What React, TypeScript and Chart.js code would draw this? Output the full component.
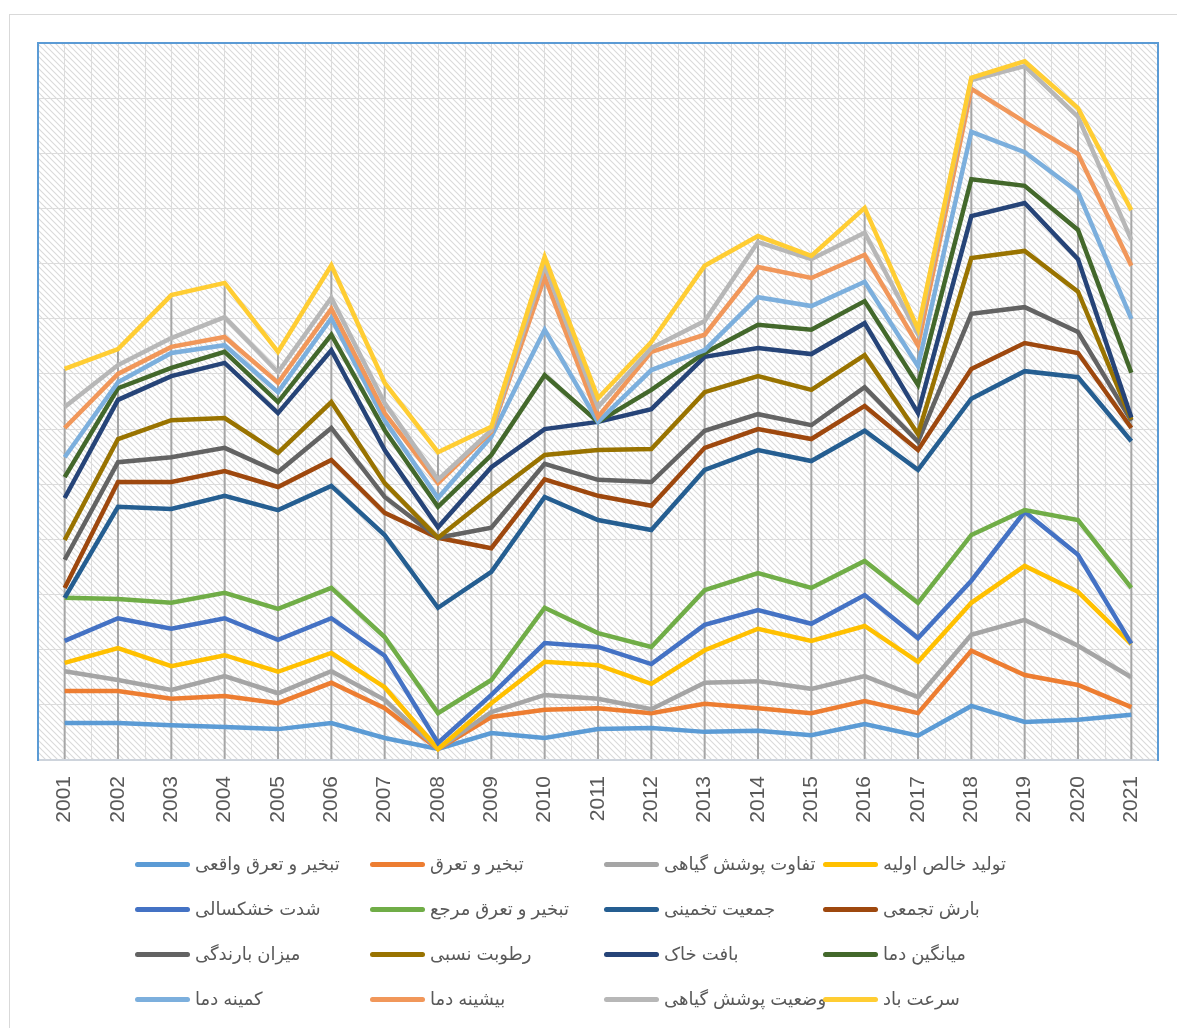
import React, { useEffect, useRef } from "react";
import { Chart, registerables } from "chart.js";

Chart.register(...registerables);

const years = ["2001","2002","2003","2004","2005","2006","2007","2008","2009","2010","2011","2012","2013","2014","2015","2016","2017","2018","2019","2020","2021"];

// Cumulative (stacked) levels, one array per series
const actualET = [6.7, 6.7, 6.3, 6.0, 5.6, 6.7, 4.0, 2.0, 4.9, 4.0, 5.6, 5.8, 5.1, 5.3, 4.5, 6.5, 4.4, 9.8, 6.9, 7.3, 8.2];
const evapotranspiration = [12.5, 12.5, 11.1, 11.6, 10.3, 14.0, 9.4, 2.0, 7.8, 9.1, 9.4, 8.5, 10.2, 9.4, 8.5, 10.7, 8.5, 19.8, 15.4, 13.6, 9.6];
const vegetationDiff = [16.1, 14.5, 12.7, 15.2, 12.1, 16.1, 10.9, 2.0, 8.7, 11.8, 11.1, 9.2, 14.0, 14.3, 12.9, 15.2, 11.4, 22.7, 25.4, 20.7, 15.0];
const netPrimaryProduction = [17.6, 20.3, 17.0, 19.0, 16.0, 19.4, 13.2, 2.0, 10.3, 17.8, 17.2, 13.8, 19.9, 23.8, 21.6, 24.3, 17.8, 28.5, 35.2, 30.5, 21.0];
const droughtSeverity = [21.6, 25.7, 23.8, 25.7, 21.8, 25.7, 18.9, 3.1, 11.8, 21.2, 20.5, 17.4, 24.5, 27.2, 24.7, 29.9, 22.1, 32.5, 45.0, 37.2, 21.1];
const referenceET = [29.4, 29.2, 28.5, 30.3, 27.4, 31.2, 22.3, 8.5, 14.5, 27.6, 23.0, 20.5, 30.8, 33.9, 31.2, 36.1, 28.5, 40.8, 45.3, 43.5, 31.2];
const population = [29.4, 45.9, 45.5, 47.9, 45.3, 49.7, 40.8, 27.6, 34.1, 47.7, 43.5, 41.7, 52.6, 56.2, 54.2, 59.7, 52.6, 65.5, 70.5, 69.4, 57.8];
const cumulativeRain = [31.2, 50.4, 50.4, 52.4, 49.5, 54.4, 44.8, 40.3, 38.4, 50.9, 47.9, 46.1, 56.6, 60.0, 58.2, 64.2, 56.2, 70.9, 75.6, 73.8, 60.2];
const precipitation = [36.3, 54.0, 54.9, 56.6, 52.2, 60.2, 47.7, 40.3, 42.1, 53.7, 50.8, 50.4, 59.7, 62.7, 60.7, 67.6, 57.7, 80.9, 82.1, 77.6, 61.5];
const relHumidity = [39.9, 58.2, 61.6, 62.0, 55.7, 64.9, 50.2, 40.3, 48.0, 55.3, 56.2, 56.4, 66.7, 69.6, 67.1, 73.4, 59.1, 91.0, 92.3, 84.9, 61.7];
const soilTexture = [47.5, 65.3, 69.6, 72.0, 62.9, 74.3, 56.2, 42.2, 53.1, 60.0, 61.3, 63.6, 73.1, 74.7, 73.6, 79.2, 62.9, 98.6, 101.0, 90.8, 62.1];
const meanTemp = [51.3, 67.4, 71.1, 74.0, 64.9, 77.1, 59.8, 45.9, 55.3, 69.8, 61.3, 67.1, 73.8, 78.9, 78.0, 83.2, 68.0, 105.3, 104.1, 96.1, 70.2];
const minTemp = [54.9, 68.5, 73.8, 75.2, 66.7, 80.1, 61.6, 47.5, 58.6, 78.0, 61.3, 70.7, 74.3, 83.9, 82.3, 86.7, 71.4, 113.9, 110.2, 103.0, 80.0];
const maxTemp = [60.2, 70.0, 74.9, 76.7, 68.4, 81.8, 62.9, 50.2, 59.5, 87.6, 62.2, 74.0, 77.1, 89.4, 87.4, 91.6, 75.2, 121.7, 115.7, 109.9, 89.6];
const vegetationStatus = [64.0, 71.6, 76.5, 80.3, 70.3, 83.8, 64.7, 50.8, 59.8, 89.7, 64.0, 74.7, 79.6, 93.9, 90.8, 95.6, 77.2, 123.3, 125.8, 116.6, 94.3];
const windSpeed = [70.9, 74.5, 84.3, 86.5, 74.0, 89.7, 68.4, 55.8, 60.4, 91.2, 65.6, 75.8, 89.6, 95.0, 91.4, 100.1, 78.1, 123.7, 126.7, 118.2, 99.7];

const seriesNames = [
  "تبخیر و تعرق واقعی", "تبخیر و تعرق", "تفاوت پوشش گیاهی", "تولید خالص اولیه",
  "شدت خشکسالی", "تبخیر و تعرق مرجع", "جمعیت تخمینی", "بارش تجمعی",
  "میزان بارندگی", "رطوبت نسبی", "بافت خاک", "میانگین دما",
  "کمینه دما", "بیشینه دما", "وضعیت پوشش گیاهی", "سرعت باد",
];
const seriesData = [
  actualET, evapotranspiration, vegetationDiff, netPrimaryProduction,
  droughtSeverity, referenceET, population, cumulativeRain,
  precipitation, relHumidity, soilTexture, meanTemp,
  minTemp, maxTemp, vegetationStatus, windSpeed,
];
const seriesColors = [
  "#5B9BD5", "#ED7D31", "#A5A5A5", "#FFC000",
  "#4472C4", "#70AD47", "#255E91", "#9E480E",
  "#636363", "#997300", "#264478", "#43682B",
  "#7CAFDD", "#F1975A", "#B7B7B7", "#FFCD33",
];

const yMax = 130;
const yStep = 10;

const W = 1177;
const H = 1028;

const legendColX = [135, 370, 604, 823];
const legendRowY = [864, 909, 954, 999];

const hatchPlugin = {
  id: "hatchBg",
  beforeDraw(chart: any) {
    const { ctx, chartArea: a } = chart;
    const tile = document.createElement("canvas");
    tile.width = 6;
    tile.height = 6;
    const t = tile.getContext("2d")!;
    t.fillStyle = "#ffffff";
    t.fillRect(0, 0, 6, 6);
    t.strokeStyle = "#DADADA";
    t.lineWidth = 1.1;
    t.beginPath();
    t.moveTo(-1, -1); t.lineTo(7, 7);
    t.moveTo(-1, 5); t.lineTo(1, 7);
    t.moveTo(5, -1); t.lineTo(7, 1);
    t.stroke();
    const pat = ctx.createPattern(tile, "repeat");
    ctx.save();
    ctx.fillStyle = pat;
    ctx.fillRect(a.left, a.top, a.right - a.left, a.bottom - a.top);
    ctx.restore();
  },
};

const dropLinesPlugin = {
  id: "dropLines",
  beforeDatasetsDraw(chart: any) {
    const { ctx, chartArea: a } = chart;
    const xs = chart.scales.x;
    const ys = chart.scales.y;
    const n = chart.data.labels.length;
    const band = xs.getPixelForValue(1) - xs.getPixelForValue(0);
    ctx.save();
    ctx.strokeStyle = "#DCDCDC";
    ctx.lineWidth = 1;
    for (let i = 0; i <= n; i++) {
      const px = Math.round(xs.getPixelForValue(0) - band / 2 + i * band) + 0.5;
      ctx.beginPath();
      ctx.moveTo(px, a.top);
      ctx.lineTo(px, a.bottom);
      ctx.stroke();
    }
    ctx.strokeStyle = "#A6A6A6";
    ctx.lineWidth = 2;
    for (let i = 0; i < n; i++) {
      let m = -Infinity;
      chart.data.datasets.forEach((d: any) => { if (d.data[i] > m) m = d.data[i]; });
      const px = xs.getPixelForValue(i);
      ctx.beginPath();
      ctx.moveTo(px, ys.getPixelForValue(m));
      ctx.lineTo(px, a.bottom);
      ctx.stroke();
    }
    ctx.restore();
  },
  afterDatasetsDraw(chart: any) {
    const { ctx, chartArea: a } = chart;
    ctx.save();
    ctx.strokeStyle = "#5B9BD5";
    ctx.lineWidth = 2;
    ctx.strokeRect(a.left, a.top, a.right - a.left, a.bottom - a.top);
    ctx.strokeStyle = "#CED4DC";
    ctx.lineWidth = 2;
    ctx.beginPath();
    ctx.moveTo(a.left + 1, a.bottom);
    ctx.lineTo(a.right - 1, a.bottom);
    ctx.stroke();
    ctx.restore();
  },
};

export default function App() {
  const ref = useRef<HTMLCanvasElement | null>(null);

  useEffect(() => {
    if (!ref.current) return;
    const chart = new Chart(ref.current, {
      type: "line",
      data: {
        labels: years,
        datasets: seriesData.map((d, i) => ({
          label: seriesNames[i],
          data: d,
          borderColor: seriesColors[i],
          backgroundColor: seriesColors[i],
          borderWidth: 4.5,
          pointRadius: 0,
          pointHoverRadius: 0,
          tension: 0,
          fill: false,
          order: seriesData.length - i,
        })),
      },
      options: {
        responsive: false,
        animation: false,
        layout: { padding: { left: 38, top: 43, right: 19, bottom: 188 } },
        plugins: {
          legend: { display: false },
          tooltip: { enabled: false },
        },
        scales: {
          x: {
            type: "category",
            offset: true,
            grid: { offset: false, color: "#DCDCDC", lineWidth: 1, drawTicks: false },
            border: { display: false },
            ticks: {
              minRotation: 90,
              maxRotation: 90,
              autoSkip: false,
              padding: 16,
              color: "#595959",
              font: { family: "'Liberation Sans', Arial, sans-serif", size: 21 },
            },
            afterFit: (s: any) => { s.height = 80; },
          },
          y: {
            min: 0,
            max: yMax,
            ticks: { display: false, stepSize: yStep },
            grid: { color: "#DCDCDC", lineWidth: 1, drawTicks: false },
            border: { display: false },
            afterFit: (s: any) => { s.width = 0; },
          },
        },
      },
      plugins: [hatchPlugin, dropLinesPlugin],
    });
    return () => chart.destroy();
  }, []);

  return (
    <div style={{ position: "absolute", left: 0, top: 0, width: W, height: H, overflow: "hidden", background: "#fff" }}>
      <div style={{ position: "absolute", left: 9, top: 14, width: W - 9, height: H - 14, borderLeft: "1px solid #D9D9D9", borderTop: "1px solid #D9D9D9", boxSizing: "border-box" }} />
      <canvas ref={ref} width={W} height={H} style={{ position: "absolute", left: 0, top: 0, width: W, height: H }} />
      {seriesNames.map((name, i) => {
        const col = i % 4;
        const row = Math.floor(i / 4);
        return (
          <div key={i} style={{ position: "absolute", left: legendColX[col], top: legendRowY[row] - 15, height: 30, display: "flex", alignItems: "center", whiteSpace: "nowrap" }}>
            <span style={{ display: "inline-block", width: 55, height: 5, borderRadius: 3, background: seriesColors[i], marginRight: 5 }} />
            <span dir="rtl" style={{ fontFamily: "'Liberation Sans', 'DejaVu Sans', Arial, sans-serif", fontSize: 18, color: "#595959" }}>{name}</span>
          </div>
        );
      })}
    </div>
  );
}
